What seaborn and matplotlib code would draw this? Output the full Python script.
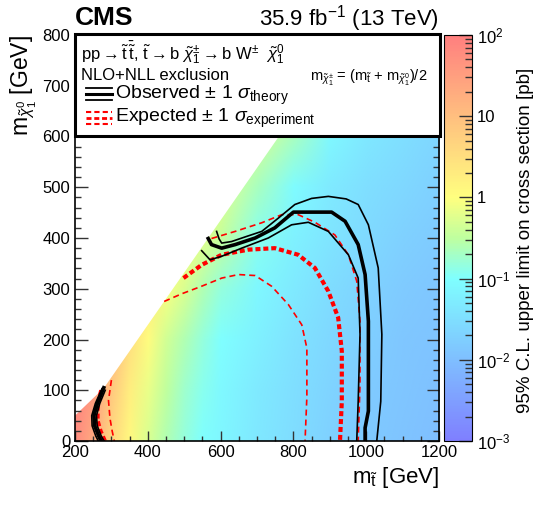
import numpy as np
import matplotlib
matplotlib.use('Agg')
import matplotlib.pyplot as plt
import seaborn as sns
from matplotlib.colors import LinearSegmentedColormap, LogNorm, Normalize
from matplotlib.image import NonUniformImage
from matplotlib.patches import Rectangle
from matplotlib.ticker import FixedLocator, FuncFormatter, MultipleLocator

plt.rcParams['font.family'] = ['Liberation Sans', 'DejaVu Sans']
plt.rcParams['mathtext.fontset'] = 'custom'
plt.rcParams['mathtext.rm'] = 'Liberation Sans'
plt.rcParams['mathtext.it'] = 'Liberation Sans:italic'
plt.rcParams['mathtext.bf'] = 'Liberation Sans:bold'

# limit map, nodes in m_stop / m_LSP (pb)
m_stop = [200, 250, 300, 350, 400, 450, 500, 550, 600, 700, 800, 900, 1000, 1100, 1200]
m_lsp = [0, 100, 200, 300, 400, 500, 600, 700, 800]
xsec_limit = [
    [60, 20, 4, 1.2, 0.5, 0.25, 0.15, 0.1, 0.075, 0.045, 0.03, 0.02, 0.015, 0.012, 0.01],
    [80, 35, 7, 1.8, 0.7, 0.32, 0.18, 0.12, 0.085, 0.05, 0.032, 0.022, 0.016, 0.013, 0.011],
    [90, 50, 12, 3, 1.1, 0.45, 0.25, 0.15, 0.1, 0.06, 0.038, 0.025, 0.018, 0.014, 0.012],
    [90, 60, 20, 5, 2, 0.9, 0.5, 0.25, 0.15, 0.08, 0.048, 0.03, 0.021, 0.016, 0.013],
    [90, 60, 25, 8, 3, 1.5, 1, 0.6, 0.35, 0.12, 0.065, 0.04, 0.027, 0.02, 0.016],
    [90, 60, 25, 8, 3, 1.5, 1, 0.8, 0.6, 0.22, 0.09, 0.05, 0.033, 0.025, 0.019],
    [90, 60, 25, 8, 3, 1.5, 1, 0.8, 0.7, 0.5, 0.22, 0.08, 0.045, 0.032, 0.024],
    [90, 60, 25, 8, 3, 1.5, 1, 0.8, 0.7, 0.6, 0.4, 0.15, 0.07, 0.045, 0.03],
    [90, 60, 25, 8, 3, 1.5, 1, 0.8, 0.7, 0.6, 0.5, 0.3, 0.12, 0.07, 0.045],
]
# region above the kinematic edge (not scanned)
blank_x = [200, 200, 280, 760, 960]
blank_y = [800, 50, 105, 600, 800]

# observed contour and +-1 sigma theory
obs_x = [566, 575, 603, 640, 695, 749, 800, 905, 942, 978, 997, 1006, 1006, 997, 997]
obs_y = [399, 387, 380, 387, 400, 420, 451, 451, 433, 387, 328, 236, 59, 26, 0]
obs_up_x = [589, 596, 603, 630, 671, 713, 760, 804, 850, 896, 945, 978, 1006, 1033, 1043, 1040, 1029]
obs_up_y = [413, 398, 390, 393, 403, 413, 440, 466, 478, 482, 477, 466, 426, 341, 210, 78, 0]
obs_dn_x = [548, 571, 603, 658, 731, 795, 841, 896, 951, 978, 983, 978, 974]
obs_dn_y = [375, 357, 364, 380, 400, 426, 431, 413, 367, 321, 210, 78, 0]
obs_low_x = [279, 262, 252, 254, 265, 272]
obs_low_y = [105, 75, 50, 30, 10, 0]
obs_low_up_x = [274, 256, 246, 247, 257, 264]
obs_low_up_y = [103, 74, 50, 30, 10, 0]
obs_low_dn_x = [283, 268, 259, 261, 272, 280]
obs_low_dn_y = [100, 74, 50, 30, 10, 0]

# expected contour and +-1 sigma experiment
exp_x = [498, 548, 603, 676, 749, 813, 859, 896, 923, 933, 933, 928]
exp_y = [321, 347, 367, 377, 380, 367, 341, 295, 243, 177, 78, 0]
exp_up_x = [575, 640, 713, 768, 813, 859, 914, 951, 974, 983, 983, 978]
exp_up_y = [399, 413, 430, 446, 446, 431, 406, 367, 315, 236, 111, 0]
exp_dn_x = [445, 493, 548, 603, 649, 695, 740, 786, 823, 837, 837, 832]
exp_dn_y = [275, 290, 305, 321, 328, 326, 305, 269, 229, 183, 87, 0]
exp_low_x = [272, 262, 262, 270, 282]
exp_low_y = [100, 70, 40, 20, 0]
exp_low_up_x = [300, 292, 296, 302, 308]
exp_low_up_y = [120, 80, 45, 20, 0]

cmap = LinearSegmentedColormap.from_list('cms_rainbow', [
    (0.0, '#7f7fff'), (0.2, '#7fbfff'), (0.4, '#7fffff'), (0.5, '#bfff9f'),
    (0.6, '#ffff7f'), (0.8, '#ffbf7f'), (1.0, '#ff7f7f')])
norm = LogNorm(1e-3, 1e2)

W, H = 539, 505
fig = plt.figure(figsize=(W / 100, H / 100), dpi=100)
ax = fig.add_axes([75 / W, 1 - 441 / H, 364 / W, 406 / H])
cax = fig.add_axes([444 / W, 1 - 441 / H, 28 / W, 406 / H])

ax.set_xlim(200, 1200)
ax.set_ylim(0, 800)
img = NonUniformImage(ax, interpolation='bilinear', cmap=cmap, norm=Normalize(-3, 2),
                      extent=(200, 1200, 0, 800), zorder=0)
img.set_data(np.array(m_stop, float), np.array(m_lsp, float), np.log10(np.array(xsec_limit)))
ax.add_image(img)
ax.fill(blank_x, blank_y, color='white', lw=0, zorder=0.5)

def draw(xs, ys, color, lw, dashes=None):
    sns.lineplot(x=xs, y=ys, sort=False, estimator=None, color=color, lw=lw, ax=ax)
    line = ax.lines[-1]
    if dashes is not None:
        line.set_dashes(dashes)

red = '#ff0000'
for xs, ys in [(exp_up_x, exp_up_y), (exp_dn_x, exp_dn_y), (exp_low_up_x, exp_low_up_y)]:
    draw(xs, ys, red, 1.2, (3.6, 2.4))
for xs, ys in [(exp_x, exp_y), (exp_low_x, exp_low_y)]:
    draw(xs, ys, red, 3, (1.2, 0.7))
for xs, ys in [(obs_up_x, obs_up_y), (obs_dn_x, obs_dn_y), (obs_low_up_x, obs_low_up_y), (obs_low_dn_x, obs_low_dn_y)]:
    draw(xs, ys, 'black', 1.2)
for xs, ys in [(obs_x, obs_y), (obs_low_x, obs_low_y)]:
    draw(xs, ys, 'black', 2.6)

ax.set_xlim(200, 1200)
ax.set_ylim(0, 800)
ax.set_xlabel('')
ax.set_ylabel('')
ax.xaxis.set_major_locator(MultipleLocator(200))
ax.xaxis.set_minor_locator(MultipleLocator(50))
ax.yaxis.set_major_locator(MultipleLocator(100))
ax.yaxis.set_minor_locator(MultipleLocator(20))
ax.tick_params(which='both', direction='in', bottom=True, left=True, top=True, right=True,
               labelsize=12, width=1, color='#333333')
ax.tick_params(axis='y', which='major', length=9)
ax.tick_params(axis='y', which='minor', length=4.5)
ax.tick_params(axis='x', which='major', length=7.5)
ax.tick_params(axis='x', which='minor', length=3.8)
ax.tick_params(axis='x', pad=3)
for s in ax.spines.values():
    s.set_linewidth(1.2)

# colour bar (same colours, log axis in pb)
sm = matplotlib.cm.ScalarMappable(norm=norm, cmap=cmap)
cb = fig.colorbar(sm, cax=cax)
cb.outline.set_linewidth(0.8)
cb_vals = [1e-3, 1e-2, 1e-1, 1, 10, 100]
cb_labels = ['$10^{-3}$', '$10^{-2}$', '$10^{-1}$', '1', '10', '$10^{2}$']
cax.yaxis.set_major_locator(FixedLocator(cb_vals))
cax.yaxis.set_major_formatter(FuncFormatter(lambda v, p: cb_labels[int(round(np.log10(v))) + 3]))
cax.minorticks_on()
cax.tick_params(which='both', direction='in', right=True, labelsize=12, width=1, color='#333333')
cax.tick_params(which='major', length=9.5)
cax.tick_params(which='minor', length=5)
fig.text(525 / W, 1 - 240 / H, '95% C.L. upper limit on cross section [pb]',
         rotation=90, ha='center', va='center', fontsize=13.5)

# axis titles and header
fig.text(439 / W, 1 - 478 / H, r'$\mathrm{m}_{\tilde{\mathrm{t}}}$ [GeV]', ha='right',
         va='center', fontsize=16)
fig.text(24 / W, 1 - 35 / H, r'$\mathrm{m}_{\tilde{\chi}^{0}_{1}}$ [GeV]', rotation=90,
         ha='center', va='top', fontsize=16.5)
fig.text(75 / W, 1 - 18 / H, 'CMS', weight='bold', fontsize=19, va='center')
fig.text(439 / W, 1 - 19 / H, r'35.9 fb$^{-1}$ (13 TeV)', ha='right', va='center', fontsize=16)

# legend box
lax = fig.add_axes([75 / W, 1 - 136 / H, 365 / W, 102 / H])
lax.set_xlim(0, 1)
lax.set_ylim(0, 1)
lax.axis('off')
lax.add_patch(Rectangle((0, 0), 1, 1, transform=lax.transAxes, fc='white',
                        ec='black', lw=2.2, clip_on=False))
lax.text(0.016, 0.82, r'$\mathrm{pp} \rightarrow \tilde{\mathrm{t}}\,\bar{\tilde{\mathrm{t}}},\,'
         r'\tilde{\mathrm{t}} \rightarrow \mathrm{b}\ \tilde{\chi}^{\pm}_{1} \rightarrow '
         r'\mathrm{b\ W}^{\pm}\ \ \tilde{\chi}^{0}_{1}$', va='center', fontsize=12)
lax.text(0.016, 0.59, 'NLO+NLL exclusion', va='center', fontsize=12)
lax.text(0.644, 0.57, r'$\mathrm{m}_{\tilde{\chi}^{\pm}_{1}}$ = (m$_{\tilde{\mathrm{t}}}$ + '
         r'm$_{\tilde{\chi}^{0}_{1}}$)/2', va='center', fontsize=10.5)
leg_x = [0.03, 0.10]
for yy, lw in [(0.47, 1.3), (0.41, 2.2), (0.35, 1.3)]:
    lax.plot(leg_x, [yy, yy], color='black', lw=lw)
for yy, lw, d in [(0.235, 1.5, (2.5, 1.5)), (0.175, 2.0, (1.8, 1.0)), (0.115, 1.5, (2.5, 1.5))]:
    lax.plot(leg_x, [yy, yy], color=red, lw=lw, dashes=d)
lax.text(0.11, 0.40, r'Observed $\pm$ 1 $\sigma_{\mathrm{theory}}$', va='center', fontsize=14)
lax.text(0.11, 0.17, r'Expected $\pm$ 1 $\sigma_{\mathrm{experiment}}$', va='center', fontsize=14)

fig.savefig('out.png', dpi=100)
